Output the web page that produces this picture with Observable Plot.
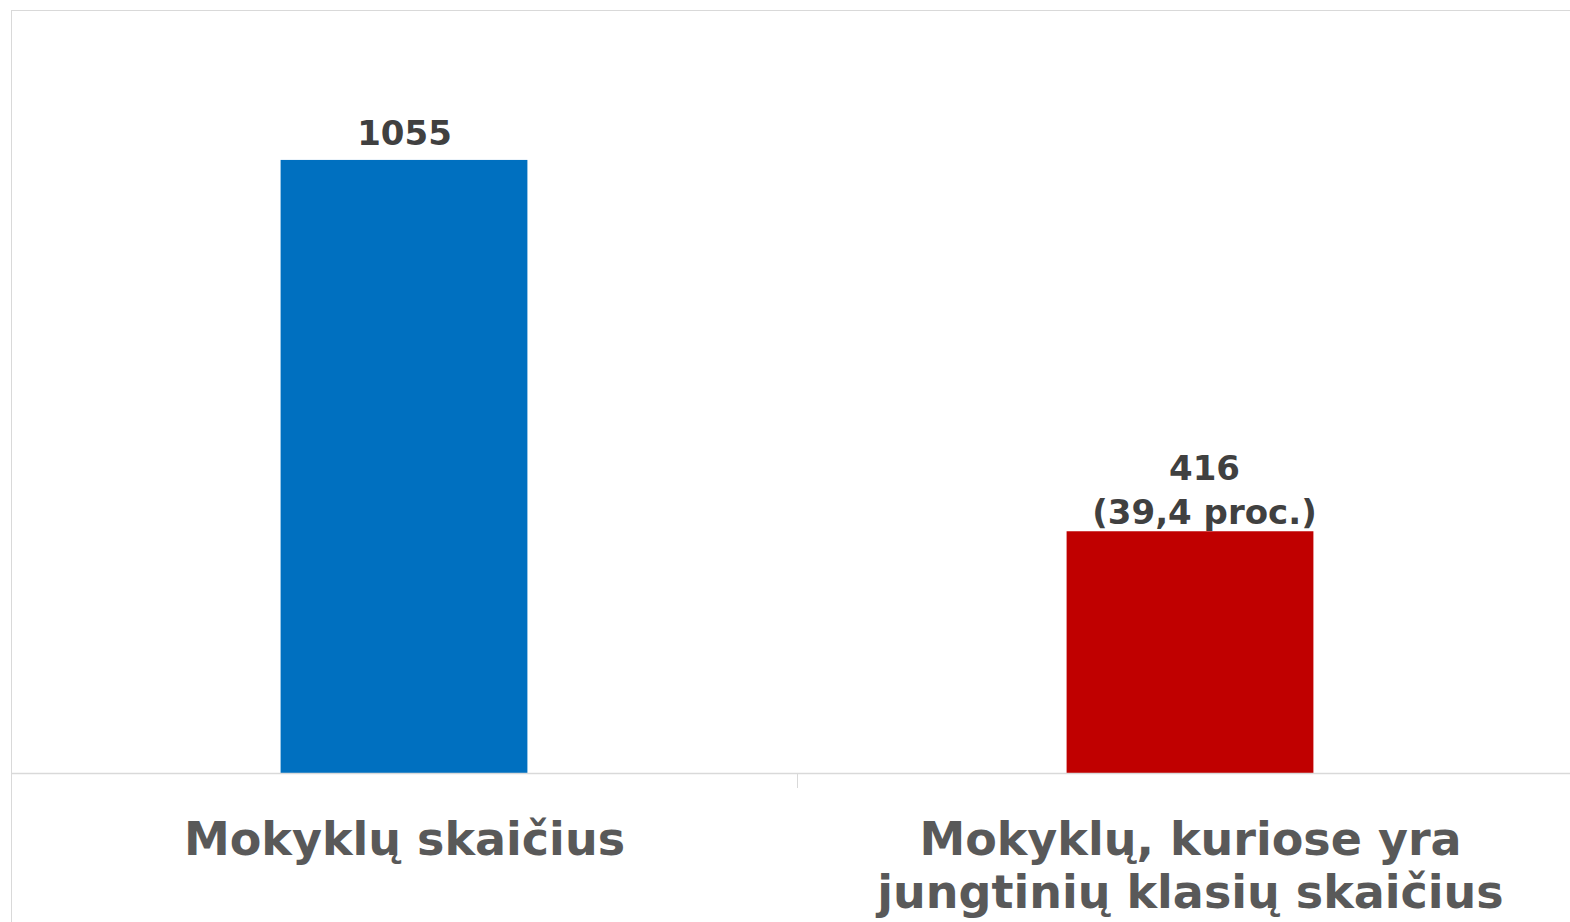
<!DOCTYPE html>
<html>
<head>
<meta charset="utf-8">
<script src="https://cdn.jsdelivr.net/npm/d3@7"></script>
<script src="https://cdn.jsdelivr.net/npm/@observablehq/plot@0.6"></script>
<style>
  html, body { margin: 0; padding: 0; background: #fff; width: 1570px; height: 922px; overflow: hidden; }
  #border { position: absolute; left: 11px; top: 10px; width: 1570px; height: 920px;
            border-left: 1px solid #d9d9d9; border-top: 1px solid #d9d9d9; }
  #chart { position: absolute; left: 0; top: 0; }
  #chart svg { overflow: hidden; }
</style>
</head>
<body>
<div id="border"></div>
<div id="chart"></div>
<script>
const categories = ["Mokyklų skaičius", "Mokyklų, kuriose yra jungtinių klasių skaičius"];
const categoryLabels = ["Mokyklų skaičius", "Mokyklų, kuriose yra\njungtinių klasių skaičius"];
const values = [1055, 416];
const valueLabels = ["1055", "416\n(39,4 proc.)"];
const colors = ["#0070C0", "#C00000"];
const yMax = 1313;

const data = categories.map((c, i) => ({
  category: c, value: values[i], label: valueLabels[i], color: colors[i], lines: valueLabels[i].split("\n").length
}));
const labelOf = new Map(categories.map((c, i) => [c, categoryLabels[i]]));

const xRange = [11, 1583];
const step = (xRange[1] - xRange[0]) / categories.length;
const font = "DejaVu Sans, Verdana, sans-serif";

const chart = Plot.plot({
  width: 1570,
  height: 922,
  marginLeft: 11,
  marginRight: 0,
  marginTop: 10,
  marginBottom: 149,
  style: { fontFamily: font, background: "transparent" },
  x: { type: "band", domain: categories, range: xRange, paddingInner: 0.686, paddingOuter: 0.343, round: false, label: null },
  y: { domain: [0, yMax], axis: null },
  marks: [
    Plot.barY(data, { x: "category", y: "value", fill: "color" }),
    Plot.ruleY([0], { stroke: "#d9d9d9", strokeWidth: 1.5 }),
    Plot.axisX({ ticks: [categories[0]], tickSize: 15, tickFormat: () => "", stroke: "#d9d9d9", dx: step / 2 }),
    Plot.axisX({
      tickSize: 0, tickPadding: 44, fontSize: 46, fontWeight: "bold", fill: "#595959",
      lineHeight: 1.15, tickFormat: (d) => labelOf.get(d), label: null
    }),
    Plot.text(data.filter(d => d.lines === 1), {
      x: "category", y: "value", text: "label", lineAnchor: "bottom", dy: -15,
      fontSize: 34, fontWeight: "bold", fill: "#404040", fontFamily: font
    }),
    Plot.text(data.filter(d => d.lines > 1), {
      x: "category", y: "value", text: "label", lineAnchor: "bottom", dy: -8, dx: 14, lineHeight: 1.28,
      fontSize: 34, fontWeight: "bold", fill: "#404040", fontFamily: font
    })
  ]
});
document.getElementById("chart").append(chart);
</script>
</body>
</html>
